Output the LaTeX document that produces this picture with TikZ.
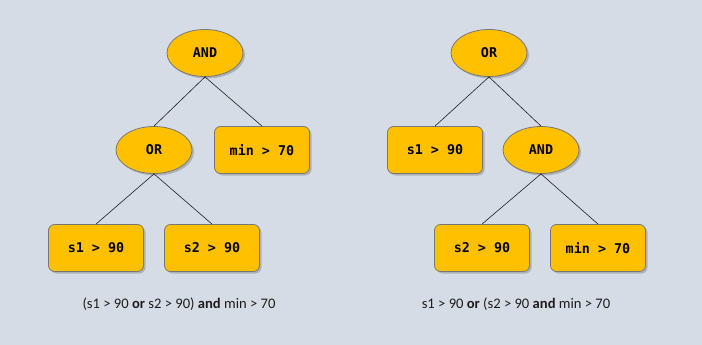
\documentclass[tikz,border=0pt]{standalone}
\usepackage{fontspec}
\setmainfont{Carlito}
\newfontfamily\codefont{DejaVu Sans Mono}
\usepackage{tikz}
\usetikzlibrary{shapes.geometric, shadows, positioning}
\definecolor{mybg}{RGB}{214,220,229}
\definecolor{mygold}{RGB}{255,192,0}
\definecolor{myedge}{RGB}{120,120,120}
\definecolor{mydark}{RGB}{30,30,30}
\tikzset{
  opnode/.style={ellipse, draw=myedge, fill=mygold, line width=0.8pt,
    minimum width=76pt, minimum height=47pt, inner sep=0pt,
    font=\codefont\bfseries\fontsize{13.4}{15}\selectfont,
    drop shadow={shadow xshift=2pt, shadow yshift=-2pt, fill=black!60, opacity=0.35}},
  leaf/.style={rectangle, draw=myedge, fill=mygold, line width=0.8pt,
    rounded corners=6pt, minimum width=95pt, minimum height=47pt, inner sep=0pt,
    font=\codefont\bfseries\fontsize{13.4}{15}\selectfont,
    drop shadow={shadow xshift=2pt, shadow yshift=-2pt, fill=black!60, opacity=0.35}},
  caption/.style={font=\fontsize{14.6}{17}\selectfont, text=mydark},
  line/.style={line width=0.6pt, color=mydark}
}

\begin{document}
\begin{tikzpicture}[x=1pt, y=-1pt]
  \fill[mybg] (0,0) rectangle (702,345);
  \useasboundingbox (0,0) rectangle (702,345);

  % left tree
  \node[opnode] (andL) at (205,53) {AND};
  \node[opnode] (orL) at (154,150) {OR};
  \node[leaf] (minL) at (262,150) {min > 70};
  \node[leaf] (s1L) at (96,248) {s1 > 90};
  \node[leaf] (s2L) at (212,248) {s2 > 90};
  \node[caption] (capL) at (179,304) {(s1 > 90 \textbf{or} s2 > 90) \textbf{and} min > 70};

  \draw[line] (andL.south) -- (orL.north);
  \draw[line] (andL.south) -- (minL.north);
  \draw[line] (orL.south) -- (s1L.north);
  \draw[line] (orL.south) -- (s2L.north);

  % right tree
  \node[opnode] (orR) at (489,53) {OR};
  \node[leaf] (s1R) at (435,150) {s1 > 90};
  \node[opnode] (andR) at (541,150) {AND};
  \node[leaf] (s2R) at (482,248) {s2 > 90};
  \node[leaf] (minR) at (598,248) {min > 70};
  \node[caption] (capR) at (516,304) {s1 > 90 \textbf{or} (s2 > 90 \textbf{and} min > 70};

  \draw[line] (orR.south) -- (s1R.north);
  \draw[line] (orR.south) -- (andR.north);
  \draw[line] (andR.south) -- (s2R.north);
  \draw[line] (andR.south) -- (minR.north);
\end{tikzpicture}
\end{document}
